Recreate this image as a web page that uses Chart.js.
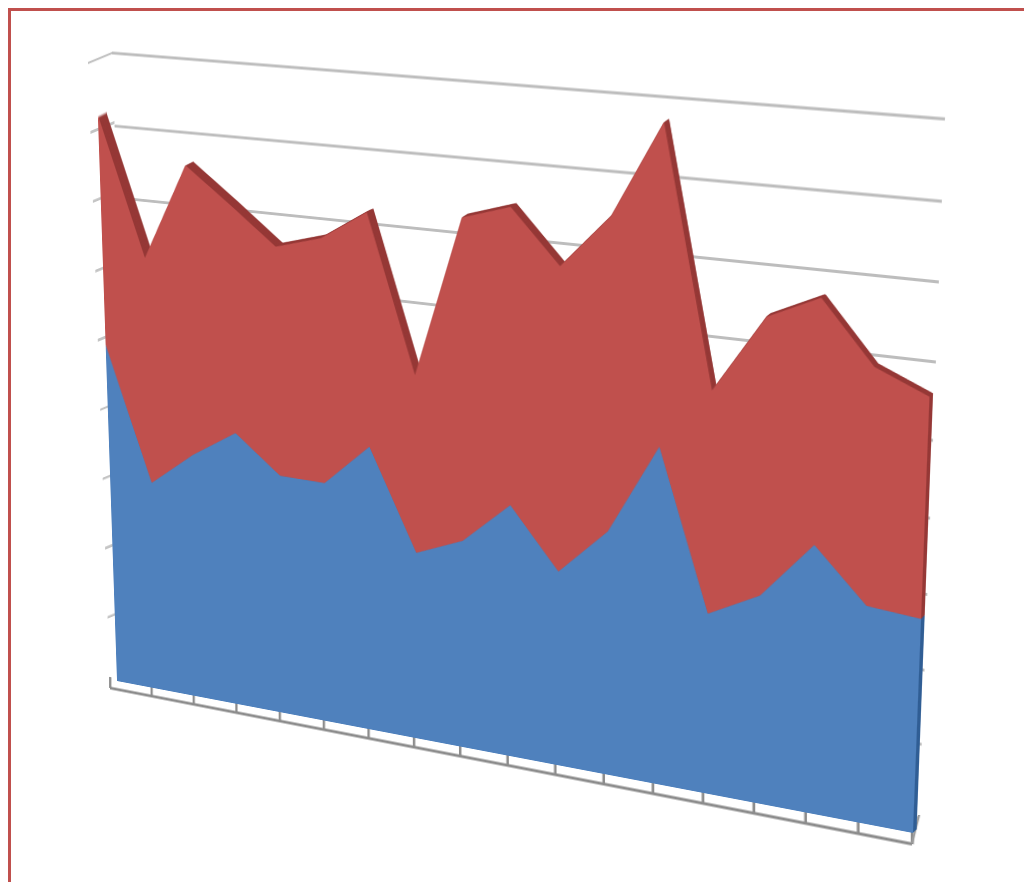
<!DOCTYPE html>
<html>
<head>
<style>
  body { margin: 0; background: #fff; overflow: hidden; }
  #frame { position: absolute; left: 8px; top: 8px; width: 1100px; height: 1000px;
           border-left: 3px solid #c0504d; border-top: 3px solid #c0504d; }
  .layer { position: absolute; left: 0; top: 0; transform-origin: 0 0; }
  .layer canvas { position: absolute; }
</style>
</head>
<body>
<div id="frame"></div>
<script src="https://cdn.jsdelivr.net/npm/chart.js"></script>
<script>
const categories = ['1','2','3','4','5','6','7','8','9','10','11','12','13','14','15','16','17','18'];
const blueValues = [4.99,3.07,3.57,3.97,3.45,3.44,4.04,2.65,2.92,3.51,2.70,3.35,4.57,2.45,2.80,3.57,2.88,2.82];
const redValues  = [3.25,3.23,4.08,3.19,3.20,3.39,3.20,2.46,4.37,3.98,4.08,4.14,4.16,2.94,3.61,3.15,3.05,2.82];
const axisMax = 9;

const PAD = 4;

// corners on the page: top left, top right, bottom right, bottom left
const wallQuad  = [[112,53],[945,119],[919,818],[134,677]];
const sideQuad  = [[88,63],[112,53],[134,677],[110,687]];
const floorQuad = [[110,677],[912,831.4],[912,844],[110,688]]; // top edge sits behind the blue area
const edgeQuad  = [[919,815],[930,815],[923,843],[912,843]];
const frontQuad = [[96,60],[940,120],[913,833],[117,681]];
const depthLeft = [8,-4], depthRight = [3.5,-3.5];
const depthSteps = 8;

// rectangle w x h -> quad, as a css matrix3d
function quadMatrix(q, w, hh) {
  const [p0, p1, p2, p3] = q;
  const dx1 = p1[0]-p2[0], dx2 = p3[0]-p2[0], sx = p0[0]-p1[0]+p2[0]-p3[0];
  const dy1 = p1[1]-p2[1], dy2 = p3[1]-p2[1], sy = p0[1]-p1[1]+p2[1]-p3[1];
  const den = dx1*dy2 - dx2*dy1;
  const g = (sx*dy2 - dx2*sy)/den;
  const h = (dx1*sy - sx*dy1)/den;
  const a = p1[0]-p0[0]+g*p1[0], b = p3[0]-p0[0]+h*p3[0], c = p0[0];
  const d = p1[1]-p0[1]+g*p1[1], e = p3[1]-p0[1]+h*p3[1], f = p0[1];
  return 'matrix3d(' + [a/w,d/w,0,g/w, b/hh,e/hh,0,h/hh, 0,0,1,0, c,f,0,1].join(',') + ')';
}

// w, h: size of the plot before it is warped, close to its size on the page
function addLayer(quad, w, h, datasets, scales) {
  const div = document.createElement('div');
  div.className = 'layer';
  div.style.width = w + 'px';
  div.style.height = h + 'px';
  div.style.transform = quadMatrix(quad, w, h);
  const canvas = document.createElement('canvas');
  canvas.style.left = -PAD + 'px';
  canvas.style.top = -PAD + 'px';
  canvas.width = w + 2*PAD;
  canvas.height = h + 2*PAD;
  div.appendChild(canvas);
  document.body.appendChild(div);
  return new Chart(canvas, {
    type: 'line',
    data: { labels: categories, datasets: datasets },
    options: {
      responsive: false,
      animation: false,
      devicePixelRatio: 2,
      layout: { padding: PAD },
      plugins: { legend: { display: false }, tooltip: { enabled: false } },
      elements: { point: { radius: 0 }, line: { tension: 0, borderWidth: 0 } },
      scales: scales
    }
  });
}

const clear = 'rgba(0,0,0,0)';

function gridScales(color, width) {
  return {
    x: { display: false },
    y: {
      min: 0, max: axisMax,
      ticks: { display: false, stepSize: 1 },
      border: { display: false },
      grid: { color: color, lineWidth: width, drawTicks: false }
    }
  };
}

function areaScales() {
  return {
    x: { display: false },
    y: { display: false, stacked: true, min: 0, max: axisMax }
  };
}

function areaSets(blue, red) {
  return [
    { data: blueValues, backgroundColor: blue, fill: 'origin' },
    { data: redValues, backgroundColor: red, fill: '-1' }
  ];
}

// walls
addLayer(wallQuad, 800, 700, [], gridScales('#bdbdbd', 3));
addLayer(sideQuad, 800, 700, [], gridScales(c => c.tick && c.tick.value === 0 ? clear : '#c4c4c4', 3));

// floor axis with its tick marks
addLayer(floorQuad, 800, 12, [], {
  x: {
    ticks: { display: false, autoSkip: false },
    border: { display: false },
    grid: { color: '#8c8c8c', lineWidth: 2.5, drawTicks: false }
  },
  y: {
    min: 0, max: 1,
    ticks: { display: false, stepSize: 1 },
    border: { display: false },
    grid: { color: c => c.tick && c.tick.value === 0 ? '#8c8c8c' : clear, lineWidth: 3, drawTicks: false }
  }
});
addLayer(edgeQuad, 12, 30, [], {
  x: {
    ticks: { display: false, autoSkip: false },
    border: { display: false },
    grid: { color: c => c.index === 0 ? '#9c9c9c' : clear, lineWidth: 2.5, drawTicks: false }
  },
  y: { display: false }
});

// extruded side of the areas, back to front
for (let s = depthSteps; s >= 1; s--) {
  const k = s / depthSteps;
  const quad = frontQuad.map((p, i) => {
    const off = (i === 0 || i === 3) ? depthLeft : depthRight;
    return [p[0] + off[0]*k, p[1] + off[1]*k];
  });
  addLayer(quad, 800, 700, areaSets('#2f5d94', '#953735'), areaScales());
}

// front face
addLayer(frontQuad, 800, 700, areaSets('#4f81bd', '#c0504d'), areaScales());
</script>
</body>
</html>
